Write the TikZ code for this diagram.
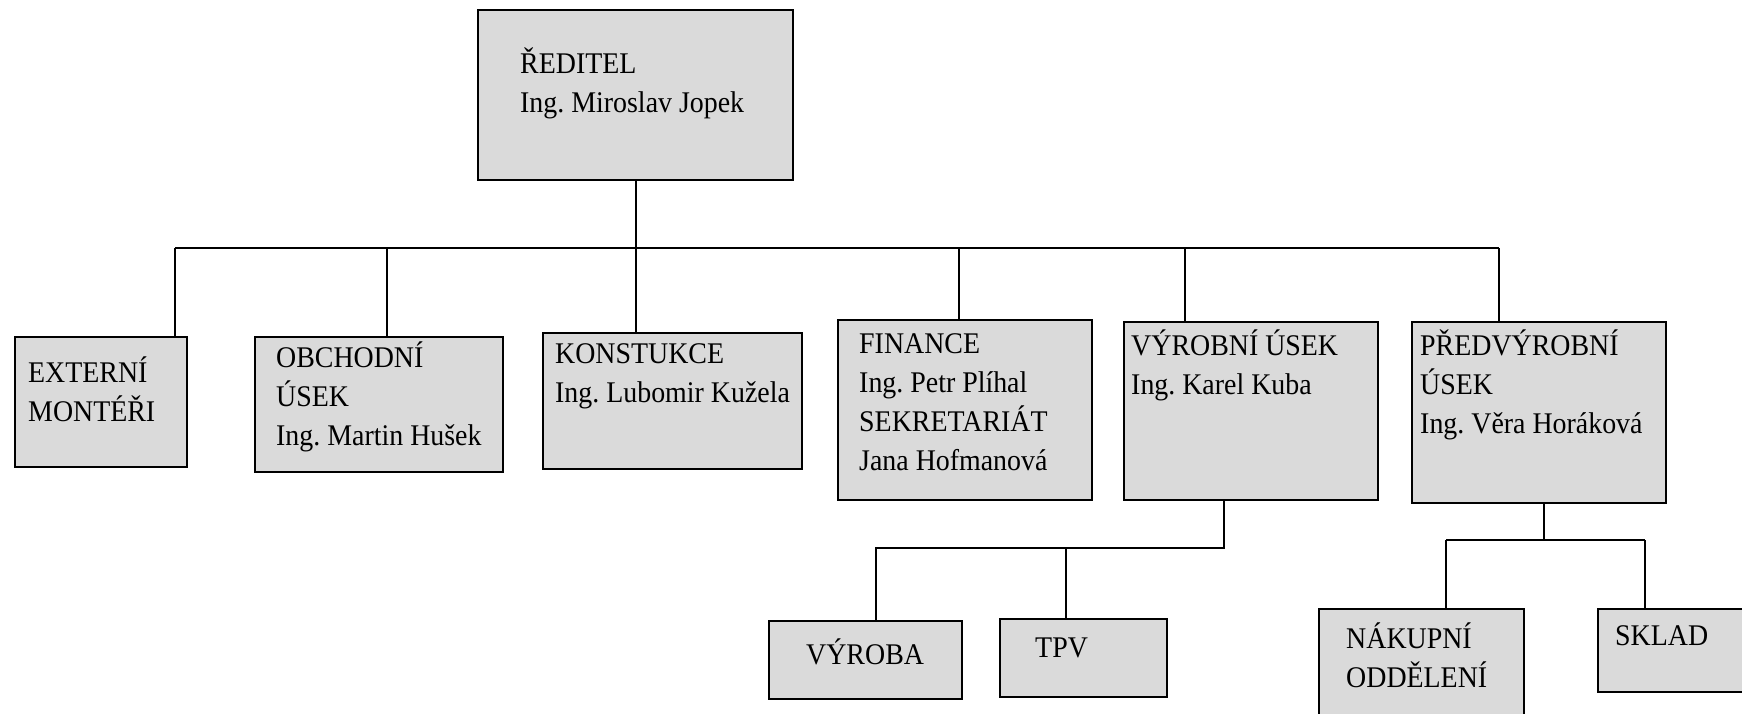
\documentclass[tikz,border=0pt]{standalone}
\usepackage{fontspec}
\setmainfont{Liberation Serif}[FakeStretch=0.93]
\frenchspacing
\definecolor{boxfill}{RGB}{218,218,218}
\tikzset{
  box/.style={draw=black, line width=2.2pt, fill=boxfill, anchor=north west, inner sep=0pt},
  txt/.style={anchor=base west, inner sep=0pt, font=\fontsize{30}{39}\selectfont},
  link/.style={draw=black, line width=1.6pt}
}
\newcommand{\lines}[1]{\begin{tabular}[t]{@{}l@{}}#1\end{tabular}}
\begin{document}
\begin{tikzpicture}[x=1pt,y=-1pt]
\useasboundingbox[fill=white] (0,0) rectangle (1742,713);
% boxes
\node[box, minimum width=315, minimum height=170] (dir) at (477,9) {};
\node[box, minimum width=172, minimum height=130] (ext) at (14,336) {};
\node[box, minimum width=248, minimum height=135] (obc) at (254,336) {};
\node[box, minimum width=259, minimum height=136] (kon) at (542,332) {};
\node[box, minimum width=254, minimum height=180] (fin) at (837,319) {};
\node[box, minimum width=254, minimum height=178] (vyr) at (1123,321) {};
\node[box, minimum width=254, minimum height=181] (pre) at (1411,321) {};
\node[box, minimum width=193, minimum height=78] (vba) at (768,620) {};
\node[box, minimum width=167, minimum height=78] (tpv) at (999,618) {};
\node[box, minimum width=205, minimum height=130] (nak) at (1318,608) {};
\node[box, minimum width=170, minimum height=83] (skl) at (1597,608) {};
% texts
\node[txt] (tdir) at (520,73) {\lines{ŘEDITEL\\Ing. Miroslav Jopek}};
\node[txt] (text) at (28,382) {\lines{EXTERNÍ\\MONTÉŘI}};
\node[txt] (tobc) at (276,367) {\lines{OBCHODNÍ\\ÚSEK\\Ing. Martin Hušek}};
\node[txt] (tkon) at (555,363) {\lines{KONSTUKCE\\Ing. Lubomir Kužela}};
\node[txt] (tfin) at (859,353) {\lines{FINANCE\\Ing. Petr Plíhal\\SEKRETARIÁT\\Jana Hofmanová}};
\node[txt] (tvyr) at (1131,355) {\lines{VÝROBNÍ ÚSEK\\Ing. Karel Kuba}};
\node[txt] (tpre) at (1420,355) {\lines{PŘEDVÝROBNÍ\\ÚSEK\\Ing. Věra Horáková}};
\node[txt] (tvba) at (806,664) {VÝROBA};
\node[txt] (ttpv) at (1035,657) {TPV};
\node[txt] (tnak) at (1346,648) {\lines{NÁKUPNÍ\\ODDĚLENÍ}};
\node[txt] (tskl) at (1615,645) {SKLAD};
% main bus
\coordinate (j0) at (636,248);
\coordinate (j1) at (175,248);
\coordinate (j2) at (387,248);
\coordinate (j4) at (959,248);
\coordinate (j5) at (1185,248);
\coordinate (j6) at (1499,248);
\draw[link] (j0 |- dir.south) -- (j0);
\draw[link] (j1) -- (j6);
\draw[link] (j1) -- (j1 |- ext.north);
\draw[link] (j2) -- (j2 |- obc.north);
\draw[link] (j0) -- (j0 |- kon.north);
\draw[link] (j4) -- (j4 |- fin.north);
\draw[link] (j5) -- (j5 |- vyr.north);
\draw[link] (j6) -- (j6 |- pre.north);
% VYROBNI subtree
\coordinate (k0) at (1224,548);
\coordinate (k1) at (876,548);
\coordinate (k2) at (1066,548);
\draw[link] (k0 |- vyr.south) -- (k0) -- (k1) -- (k1 |- vba.north);
\draw[link] (k2) -- (k2 |- tpv.north);
% PREDVYROBNI subtree
\coordinate (m0) at (1544,540);
\coordinate (m1) at (1446,540);
\coordinate (m2) at (1645,540);
\draw[link] (m0 |- pre.south) -- (m0);
\draw[link] (m1) -- (m2);
\draw[link] (m1) -- (m1 |- nak.north);
\draw[link] (m2) -- (m2 |- skl.north);
\end{tikzpicture}
\end{document}
